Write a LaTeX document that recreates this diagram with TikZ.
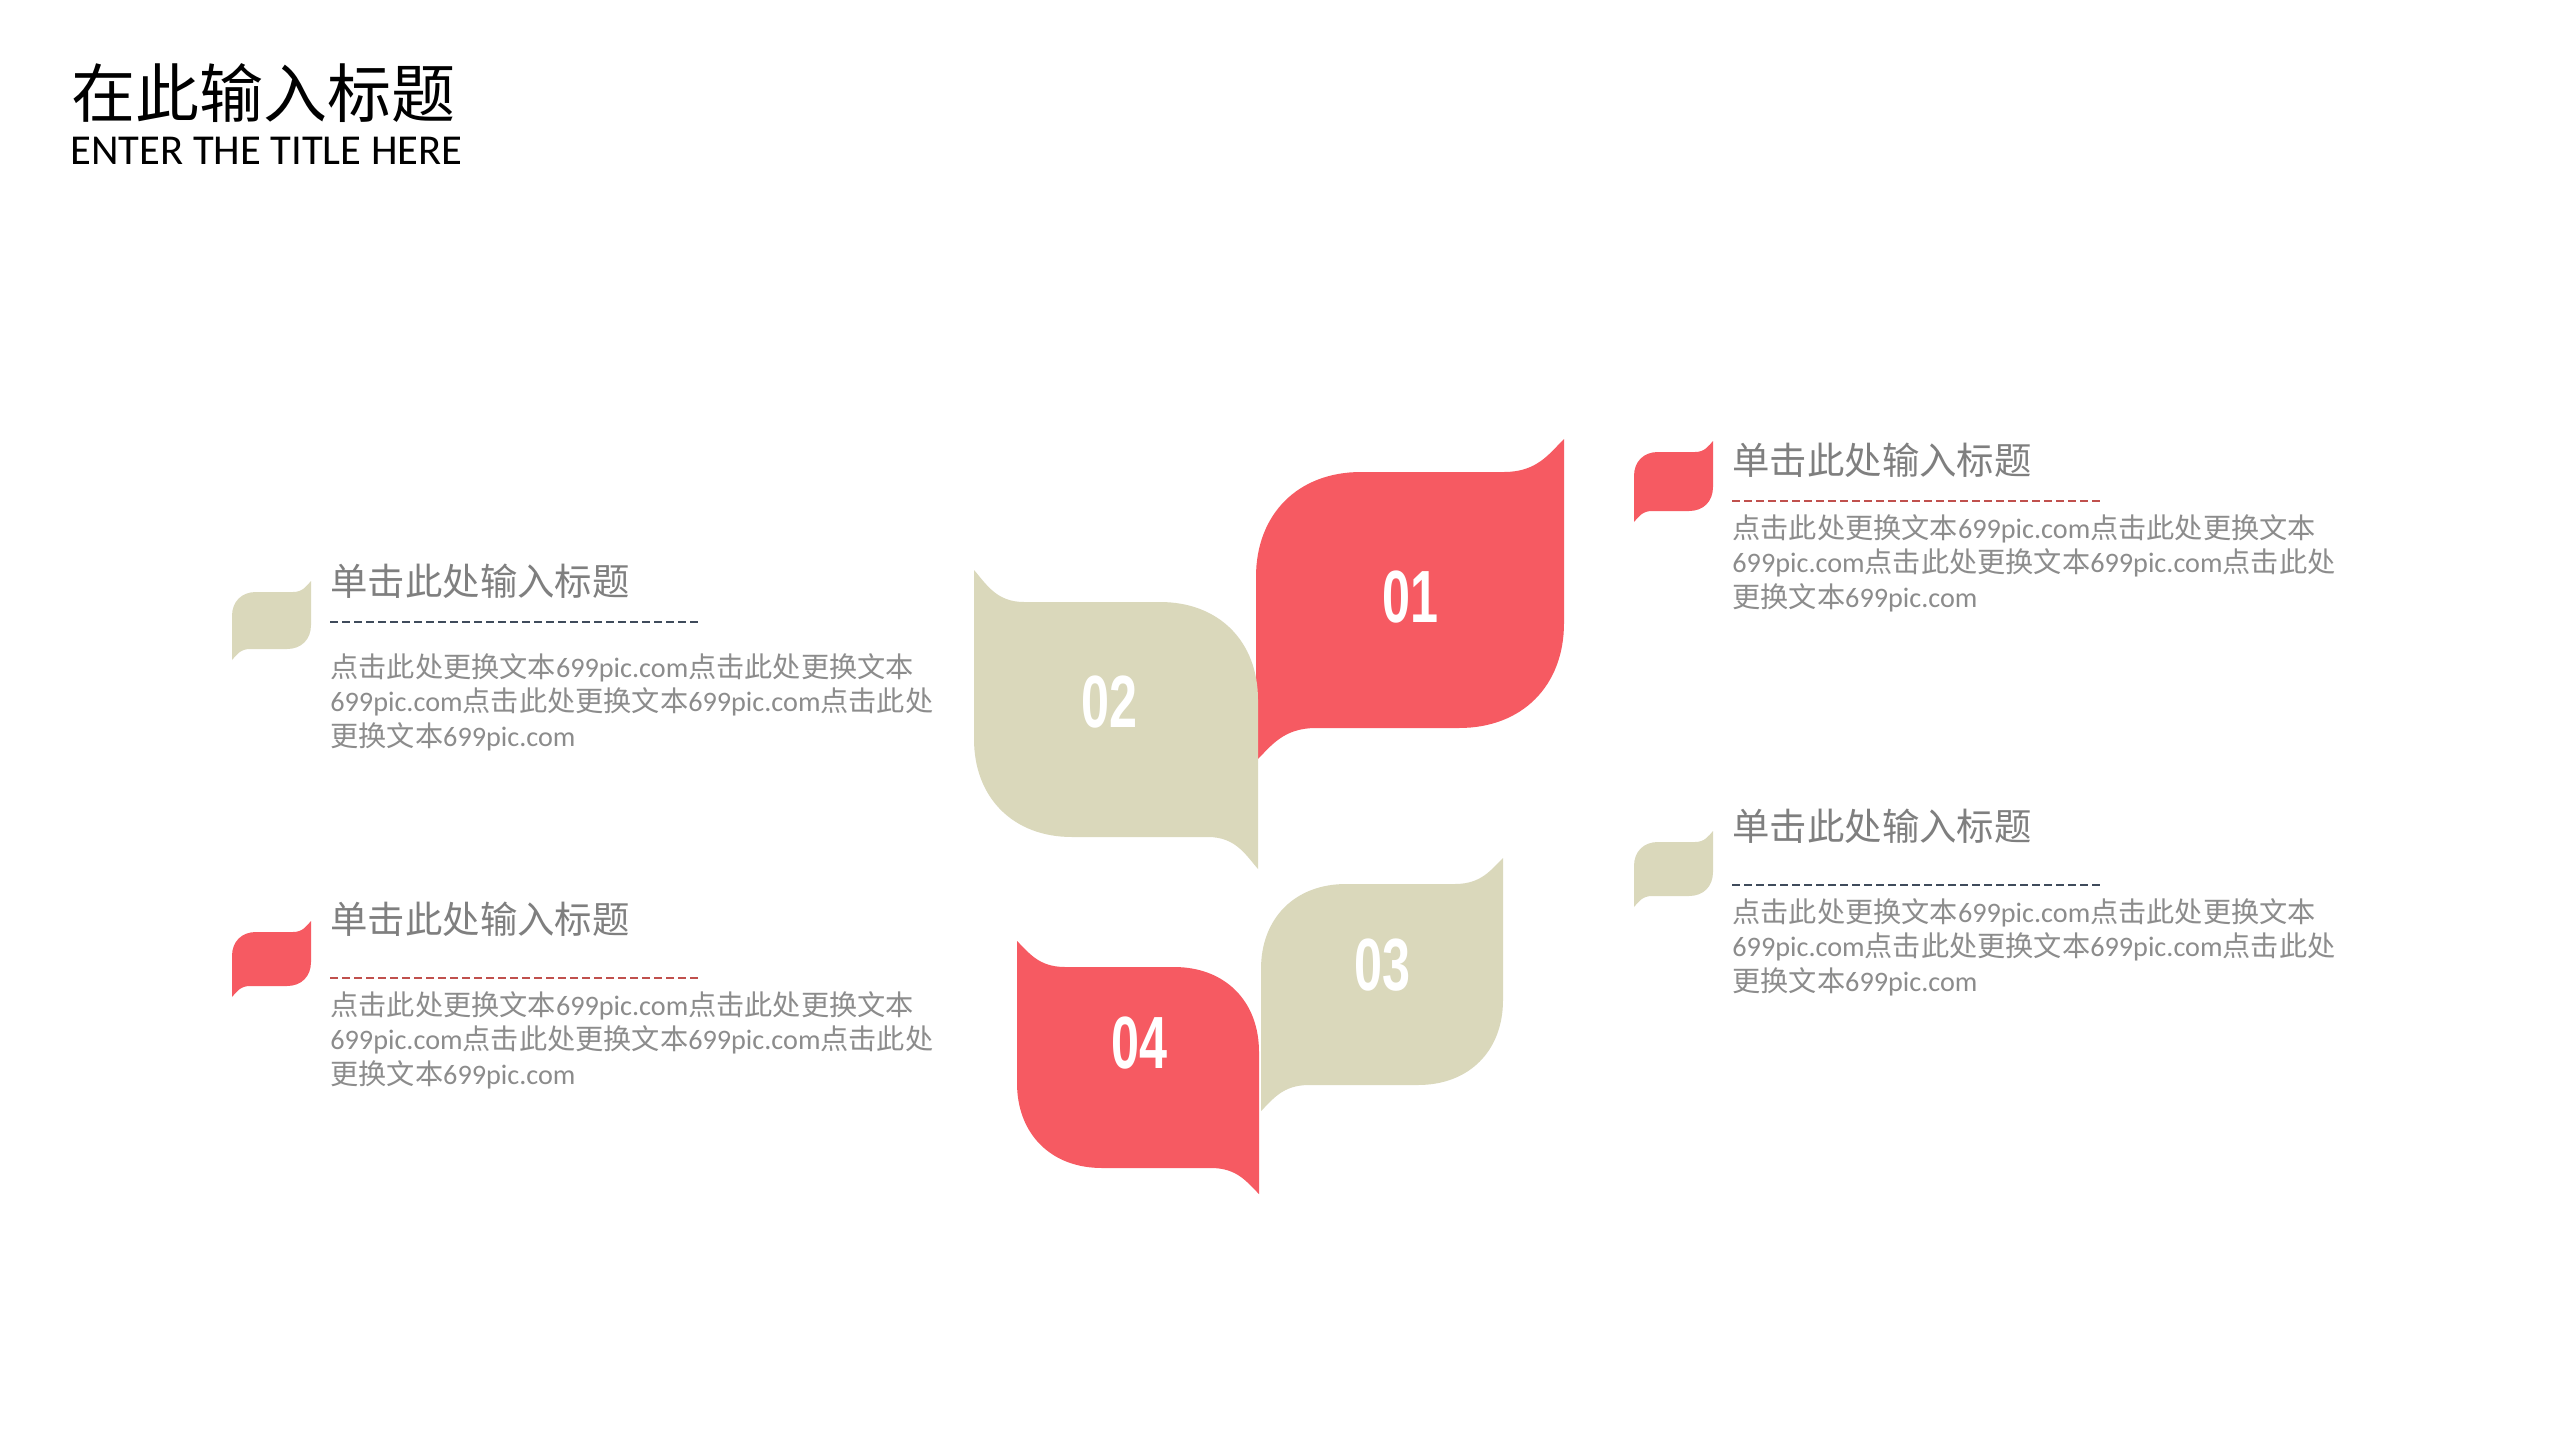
\documentclass[tikz,border=0pt]{standalone}
\usepackage{fontspec}
\setmainfont{Carlito}
\newfontfamily\cjk{Noto Sans CJK SC}
\newfontfamily\numfont[FakeStretch=0.68]{Liberation Sans}
\usepackage{xcolor}
\usetikzlibrary{calc}

\definecolor{leafred}{HTML}{F65A62}
\definecolor{leafbeige}{HTML}{DAD8BB}
\definecolor{headgray}{HTML}{7F7F7F}
\definecolor{bodygray}{HTML}{8C8C8C}
\definecolor{dashred}{HTML}{C0504D}
\definecolor{dashnavy}{HTML}{3F4B5B}

\newcommand{\zh}[1]{{\cjk #1}}
% leaf: fill, x, y, w, h, R, r, t  (body top-left at x,y; tips top-right and bottom-left)
\newcommand{\leaf}[8]{%
  \fill[#1,shift={(#2,#3)}] (0,{#5+#8}) -- (0,#6)
    .. controls (0,{0.4*#6}) and ({0.4*#6},0) .. (#6,0)
    -- ({#4-#7},0) .. controls ({#4-0.45*#7},0) and ({#4-0.25*#7},{-0.55*#8}) .. (#4,-#8)
    -- (#4,{#5-#6}) .. controls (#4,{#5-0.4*#6}) and ({#4-0.4*#6},#5) .. ({#4-#6},#5)
    -- (#7,#5) .. controls ({0.45*#7},#5) and ({0.25*#7},{#5+0.55*#8}) .. (0,{#5+#8}) -- cycle;}
% same leaf, mirrored (tips top-left and bottom-right)
\newcommand{\leafflip}[8]{%
  \begin{scope}[shift={({#2+#4},#3)},xscale=-1]
    \leaf{#1}{0}{0}{#4}{#5}{#6}{#7}{#8}
  \end{scope}}
\newcommand{\bodytxt}{\zh{点击此处更换文本}699pic.com\zh{点击此处更换文本}\\
699pic.com\zh{点击此处更换文本}699pic.com\zh{点击此处}\\
\zh{更换文本}699pic.com}

\begin{document}
\begin{tikzpicture}[x=0.5pt,y=-0.5pt,
  num/.style={font=\numfont\bfseries\fontsize{37}{38}\selectfont,text=white,inner sep=0},
  heading/.style={font=\cjk\fontsize{18.7}{20}\selectfont,text=headgray,anchor=west,inner sep=0},
  bodytext/.style={font=\fontsize{14.1}{17.25}\selectfont,text=bodygray,align=left,anchor=north west,inner sep=0},
  sepline/.style={line width=0.6pt,dash pattern=on 4pt off 2pt}]
\useasboundingbox (0,0) rectangle (2560,1440);
\fill[white] (0,0) rectangle (2560,1440);

% title
\node[anchor=west,inner sep=0,font=\cjk\fontsize{32}{34}\selectfont] (title) at (71,93) {在此输入标题};
\node[anchor=west,inner sep=0,font=\fontsize{21.3}{23}\selectfont] (subtitle) at (70,151) {ENTER THE TITLE HERE};

% big leaves
\leaf{leafred}{1256}{472}{308}{256}{105}{60}{33}
\leafflip{leafbeige}{974}{602}{284}{235}{98}{50}{32}
\leaf{leafbeige}{1261}{884}{242}{201}{85}{48}{26}
\leafflip{leafred}{1017}{967}{242}{201}{85}{48}{26}

\node[num] (n1) at (1410,597) {01};
\node[num] (n2) at (1109,702) {02};
\node[num] (n3) at (1382,965) {03};
\node[num] (n4) at (1139,1043) {04};

% small leaves
\leaf{leafbeige}{232}{592}{79}{57}{24}{18}{11}
\leaf{leafred}{232}{932}{79}{54}{24}{18}{11}
\leaf{leafred}{1634}{452}{79}{59}{24}{18}{11}
\leaf{leafbeige}{1634}{842}{79}{54}{24}{18}{11}

% left top
\node[heading] (h2) at (330,581) {单击此处输入标题};
\draw[sepline,dashnavy] (330,622) -- (699,622);
\node[bodytext] (b2) at (330,653) {\bodytxt};

% left bottom
\node[heading] (h4) at (330,919) {单击此处输入标题};
\draw[sepline,dashred] (330,978) -- (699,978);
\node[bodytext] (b4) at (330,991) {\bodytxt};

% right top
\node[heading] (h1) at (1732,460) {单击此处输入标题};
\draw[sepline,dashred] (1732,501) -- (2101,501);
\node[bodytext] (b1) at (1732,514) {\bodytxt};

% right bottom
\node[heading] (h3) at (1732,826) {单击此处输入标题};
\draw[sepline,dashnavy] (1732,885) -- (2101,885);
\node[bodytext] (b3) at (1732,898) {\bodytxt};
\end{tikzpicture}
\end{document}
